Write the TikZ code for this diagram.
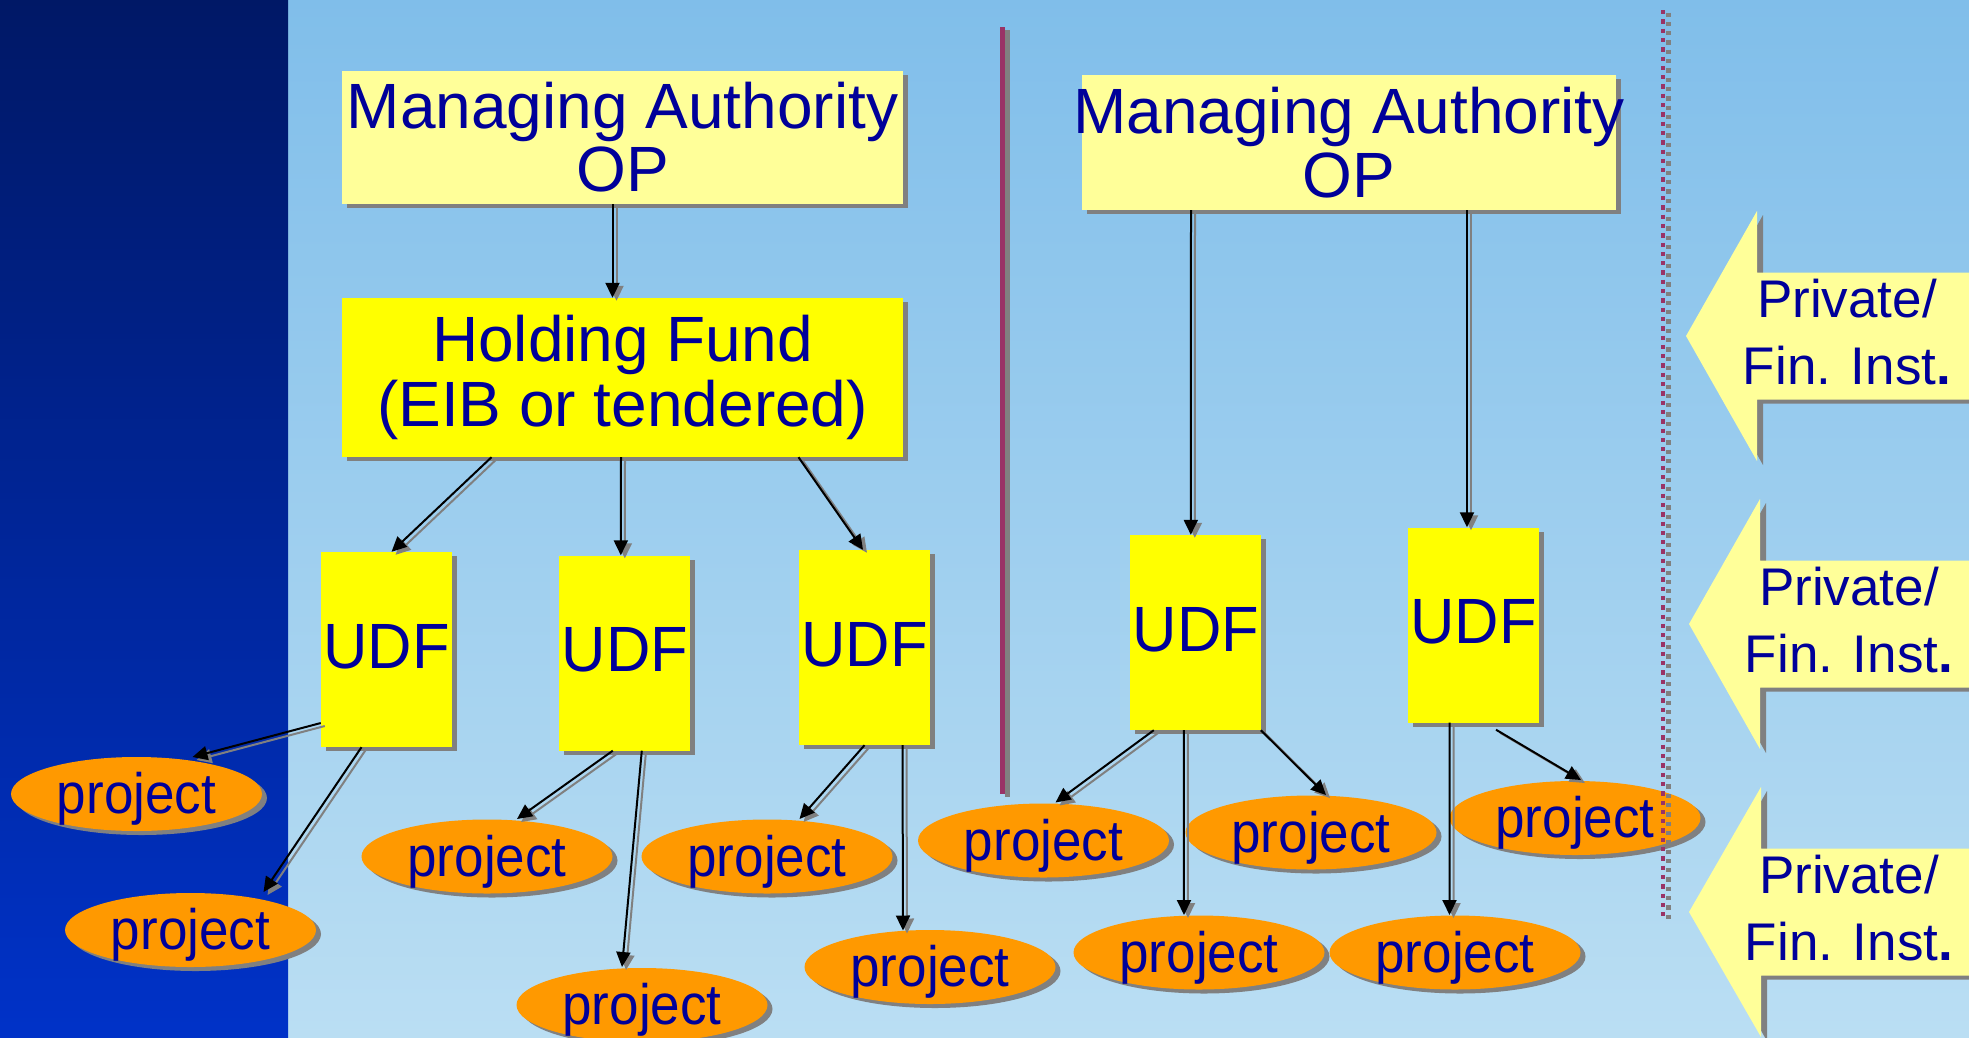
\documentclass[tikz,border=0pt]{standalone}
\usepackage{fontspec}
\setmainfont{Liberation Sans}
\newfontfamily\udffont[FakeStretch=0.96]{Liberation Sans}
\newfontfamily\projfont[FakeStretch=0.93]{Liberation Sans}
\usetikzlibrary{arrows.meta,shapes.geometric,shadows,calc}

\definecolor{txtblue}{RGB}{0,0,153}
\definecolor{paleyellow}{RGB}{255,255,153}
\definecolor{brightyellow}{RGB}{255,255,0}
\definecolor{projorange}{RGB}{255,153,0}
\definecolor{shadowgray}{RGB}{128,128,128}
\definecolor{maroon}{RGB}{153,51,102}
\definecolor{skytop}{RGB}{128,190,234}
\definecolor{skybottom}{RGB}{186,222,243}
\definecolor{navytop}{RGB}{0,24,102}
\definecolor{navybottom}{RGB}{0,50,200}

% connector with its grey offset shadow
\newcommand\linkarrow[2]{%
  \draw[linkshadow] #1 -- #2;
  \draw[link] #1 -- #2;}

% block arrow pointing left: tip x, tip y, back edge x
\newcommand\finarrow[3]{%
  \fill[shadowgray] ($(#1,#2)+(6,4)$) -- ($(#3,#2)+(6,-121)$) -- ($(#3,#2)+(6,-59.5)$)
    -- (1995,#2-59.5) -- (1995,#2+67.5) -- ($(#3,#2)+(6,67.5)$) -- ($(#3,#2)+(6,129)$) -- cycle;
  \fill[paleyellow] (#1,#2) -- (#3,#2-125) -- (#3,#2-63.5) -- (1995,#2-63.5)
    -- (1995,#2+63.5) -- (#3,#2+63.5) -- (#3,#2+125) -- cycle;}

\begin{document}
\begin{tikzpicture}[x=1bp,y=-1bp,
  boxshadow/.style={drop shadow={shadow xshift=5bp,shadow yshift=-4bp,fill=shadowgray,opacity=1}},
  authority/.style={rectangle,fill=paleyellow,boxshadow,inner sep=0pt,text=txtblue,align=center,
    font=\fontsize{64bp}{63bp}\selectfont},
  fundbox/.style={rectangle,fill=brightyellow,boxshadow,inner sep=0pt,text=txtblue,align=center,
    minimum width=561bp,minimum height=159bp,font=\fontsize{64bp}{65bp}\selectfont},
  udfbox/.style={rectangle,fill=brightyellow,boxshadow,inner sep=0pt,text=txtblue,
    minimum width=131bp,minimum height=195bp,text depth=7bp,
    font=\udffont\fontsize{64bp}{64bp}\selectfont},
  projnode/.style={ellipse,fill=projorange,boxshadow,inner sep=0pt,text=txtblue,
    minimum width=251bp,minimum height=74bp,text depth=2bp,
    font=\projfont\fontsize{57bp}{57bp}\selectfont},
  sourcetext/.style={text=txtblue,align=center,inner sep=0pt,
    font=\fontsize{53bp}{67bp}\selectfont},
  link/.style={line width=2bp,draw=black,-{Triangle[length=15bp,width=14bp]}},
  linkshadow/.style={link,draw=shadowgray,fill=shadowgray,transform canvas={xshift=4bp,yshift=-3bp}},
]
\useasboundingbox (0,0) rectangle (1969,1037);

% background: light sky panel and dark navy band on the left
\shade[top color=skytop,bottom color=skybottom] (0,0) rectangle (1969,1037);
\shade[top color=navytop,bottom color=navybottom] (0,0) rectangle (288,1037);

% solid divider between the two schemes
\draw[shadowgray,line width=5bp] (1007.5,30) -- (1007.5,797);
\draw[maroon,line width=5bp] (1002.5,27) -- (1002.5,794);

% left scheme: managing authority, holding fund, UDFs
\node[authority,minimum width=561bp,minimum height=133bp] (ma1) at (622.5,137.5)
  {Managing Authority\\OP};
\node[fundbox] (hf) at (622.5,377.5) {Holding Fund\\(EIB or tendered)};
\node[udfbox] (udf1) at (386.5,649.5) {UDF};
\node[udfbox] (udf2) at (624.8,653) {UDF};
\node[udfbox] (udf3) at (864.5,647.5) {UDF};

% right scheme: managing authority directly to UDFs
\node[authority,minimum width=534bp,minimum height=135bp,font=\fontsize{64bp}{64bp}\selectfont]
  (ma2) at (1349,142.5) {\makebox[0pt]{Managing Authority}\\\makebox[0pt]{OP}};
\node[udfbox] (udf4) at (1195.8,632.5) {UDF};
\node[udfbox] (udf5) at (1473.5,625) {UDF};

% projects
\node[projnode] (p1) at (136.5,794) {project};
\node[projnode] (p2) at (190.5,930) {project};
\node[projnode] (p3) at (487,856.5) {project};
\node[projnode] (p4) at (642,1005) {project};
\node[projnode] (p5) at (767,856.5) {project};
\node[projnode] (p6) at (930,967) {project};
\node[projnode] (p7) at (1043.5,840.5) {project};
\node[projnode] (p8) at (1311,832.5) {project};
\node[projnode] (p9) at (1575,818) {project};
\node[projnode] (p10) at (1199,952.5) {project};
\node[projnode] (p11) at (1455,952.5) {project};

% connectors, left scheme
\linkarrow{($(ma1.south)+(-10,0)$)}{($(hf.north)+(-10,0)$)}
\linkarrow{($(hf.south)+(-131,0)$)}{($(udf1.north)+(5,0)$)}
\linkarrow{($(hf.south)+(-1.5,0)$)}{($(udf2.north)+(-4,0)$)}
\linkarrow{($(hf.south)+(176,0)$)}{($(udf3.north)+(-1.5,0)$)}
\linkarrow{($(udf1.west)+(0,73.5)$)}{($(p1.center)+(56,-37)$)}
\linkarrow{($(udf1.south)+(-25,0)$)}{($(p2.center)+(73,-38)$)}
\linkarrow{($(udf2.south)+(-12,0)$)}{($(p3.center)+(30,-37.5)$)}
\linkarrow{($(udf2.south)+(17,0)$)}{($(p4.center)+(-20,-38)$)}
\linkarrow{(udf3.south)}{($(p5.center)+(32.5,-37.5)$)}
\linkarrow{($(udf3.south)+(38,0)$)}{($(p6.center)+(-27,-36.5)$)}

% connectors, right scheme
\linkarrow{($(ma2.south)+(-158,0)$)}{($(udf4.north)+(-5,0)$)}
\linkarrow{($(ma2.south)+(118,0)$)}{($(udf5.north)+(-6.5,0)$)}
\linkarrow{($(udf4.south)+(-42,0)$)}{($(p7.center)+(12,-38)$)}
\linkarrow{($(udf4.south)+(-12,0)$)}{($(p10.center)+(-15,-37.5)$)}
\linkarrow{($(udf4.south)+(65,0)$)}{($(p8.center)+(15,-37.5)$)}
\linkarrow{($(udf5.south)+(-24,0)$)}{($(p11.center)+(-5.5,-37.5)$)}
\linkarrow{($(udf5.south)+(22.5,7)$)}{($(p9.center)+(6,-38)$)}

% dotted divider before the private contributions
\draw[shadowgray,line width=4.3bp,dash pattern=on 4.3bp off 5bp] (1668.5,12.5) -- (1668.5,920.5);
\draw[maroon,line width=4.3bp,dash pattern=on 4.3bp off 5bp] (1663,10) -- (1663,918);

% private / financial institution contributions
\finarrow{1686}{336}{1757}
\finarrow{1689}{624}{1760}
\finarrow{1689}{912}{1761}
\node[sourcetext] (pf1) at (1847,332) {Private/\\Fin. Inst\textbf{.}};
\node[sourcetext] (pf2) at (1849,620) {Private/\\Fin. Inst\textbf{.}};
\node[sourcetext] (pf3) at (1849,908) {Private/\\Fin. Inst\textbf{.}};
\end{tikzpicture}
\end{document}
